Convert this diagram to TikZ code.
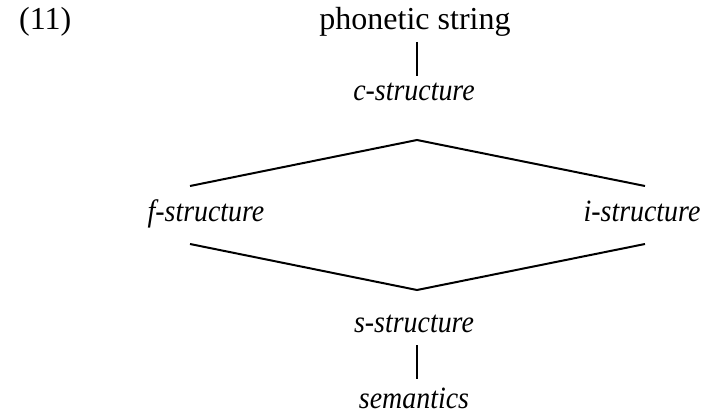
\documentclass[tikz,border=0pt]{standalone}
\usepackage{fontspec}
\setmainfont{Liberation Serif}
\newfontfamily\itfnt{Liberation Serif}[FakeStretch=0.9]
\begin{document}
\begin{tikzpicture}[x=1pt,y=-1pt,
  rm/.style={font=\fontsize{32}{36}\selectfont, inner sep=0pt, anchor=base},
  it/.style={font=\itfnt\itshape\fontsize{31}{36}\selectfont, inner sep=0pt, anchor=base},
  ln/.style={line width=2pt}]
\useasboundingbox (0,0) rectangle (707,417);
\node[rm, anchor=base west] (num) at (19,30) {(11)};
\node[rm] (phon) at (415,30) {phonetic string};
\node[it] (c) at (414,101) {c-structure};
\node[it] (f) at (206,221) {f-structure};
\node[it] (i) at (642,221) {i-structure};
\node[it] (s) at (414,332) {s-structure};
\node[it] (sem) at (414,408) {semantics};
\coordinate (v1a) at (417,42);
\coordinate (v1b) at (417,76);
\coordinate (top) at (417,140);
\coordinate (tl) at (190,186);
\coordinate (tr) at (645,186);
\coordinate (bl) at (190,244);
\coordinate (br) at (645,244);
\coordinate (bot) at (417,290);
\coordinate (v2a) at (417,345);
\coordinate (v2b) at (417,379);
\draw[ln] (v1a) -- (v1b);
\draw[ln] (tl) -- (top) -- (tr);
\draw[ln] (bl) -- (bot) -- (br);
\draw[ln] (v2a) -- (v2b);
\end{tikzpicture}
\end{document}
